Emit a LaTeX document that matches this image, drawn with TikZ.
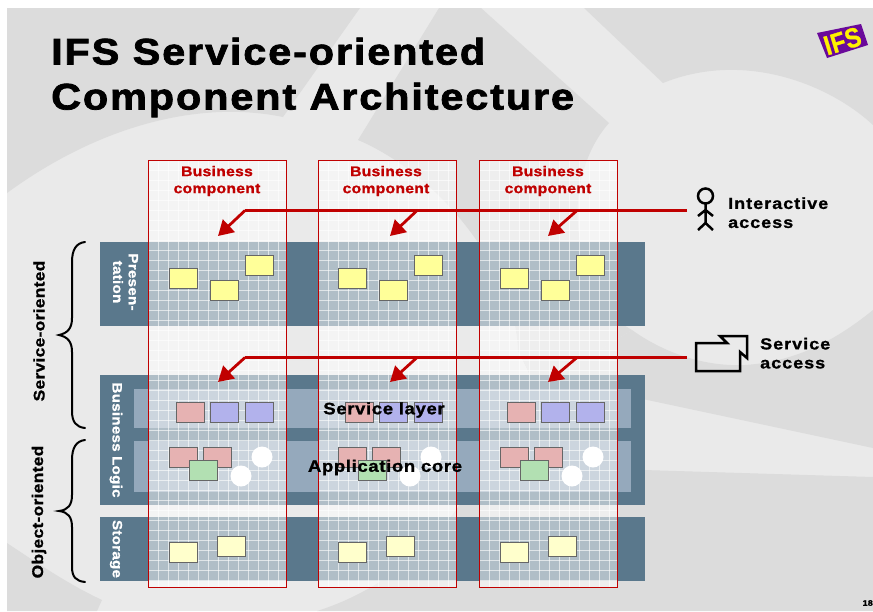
\documentclass[tikz,border=0pt]{standalone}
\usepackage{fontspec}
\setmainfont{Liberation Sans}[BoldFont={Liberation Sans Bold}]
\usetikzlibrary{arrows.meta,calc}
\definecolor{bgd}{HTML}{DCDCDC}
\definecolor{bgl}{HTML}{EAEAEA}
\definecolor{rowc}{HTML}{5A788C}
\definecolor{bandc}{HTML}{95A9BC}
\definecolor{redc}{HTML}{C00000}
\definecolor{yel}{HTML}{FFFF99}
\definecolor{lyel}{HTML}{FFFFCC}
\definecolor{pinkc}{HTML}{E6B2B2}
\definecolor{bluec}{HTML}{B2B2EC}
\definecolor{greenc}{HTML}{B2E0B2}
\definecolor{edgec}{HTML}{666666}
\definecolor{logoc}{HTML}{6A0A9A}
\newfontface\hvy{Liberation Sans Bold}[FakeStretch=1.12,FakeBold=2,LetterSpace=5]
\newfontface\hvysm{Liberation Sans Bold}[FakeStretch=1.12,FakeBold=1.1,LetterSpace=2]
\newfontface\hvymd{Liberation Sans Bold}[FakeStretch=1.12,FakeBold=1.1,LetterSpace=6.5]
\newfontface\hvylg{Liberation Sans Bold}[FakeStretch=1.12,FakeBold=1.3,LetterSpace=4]
\tikzset{
  x=1pt,y=-1pt,
  rowbox/.style={fill=rowc,draw=none},
  bandbox/.style={fill=bandc,draw=none},
  colbox/.style={draw=redc,line width=.9pt},
  item/.style={draw=edgec,line width=.9pt,minimum width=28pt,minimum height=20pt,inner sep=0pt},
  yitem/.style={item,fill=yel},
  litem/.style={item,fill=lyel},
  pitem/.style={item,fill=pinkc},
  bitem/.style={item,fill=bluec},
  gitem/.style={item,fill=greenc},
  citem/.style={circle,fill=white,draw=none,minimum size=21pt,inner sep=0pt},
  link/.style={draw=redc,line width=2.8pt},
  linkarrow/.style={link,-{Triangle[length=15pt,width=17pt]}},
  collabel/.style={text=redc,font=\hvysm\fontsize{14}{17}\selectfont,align=center},
  rowlabel/.style={text=white,font=\hvysm\fontsize{13.5}{15.5}\selectfont,align=center,rotate=-90},
  sidelabel/.style={text=black,font=\hvysm\fontsize{15.5}{18}\selectfont,rotate=90},
  acclabel/.style={text=black,font=\hvymd\fontsize{16}{19.5}\selectfont,align=left,anchor=west,inner sep=0pt},
  bandlabel/.style={text=black,font=\hvylg\fontsize{16.5}{18}\selectfont,inner sep=0pt},
  brace/.style={draw=black,line width=2pt,line cap=round},
  icon/.style={draw=black,line width=2.5pt},
}
\newcommand{\compcol}[2]{%
  \fill[white,opacity=.52] (#1,160) rectangle ++(138,427);
  \begin{scope}
    \clip (#1,160) rectangle ++(138,427);
    \foreach \i in {0,...,13} {\draw[white,opacity=.6,line width=.9pt] ({#1+10*\i+.5},160) -- ++(0,427);}
    \foreach \j in {0,...,42} {\draw[white,opacity=.6,line width=.9pt] (#1,{160+10*\j+.5}) -- ++(138,0);}
  \end{scope}
  \draw[colbox] (#1,160) rectangle ++(138,427);
}
\newcommand{\compitems}[2]{%
  \node[yitem] (#2y1) at ({183+#1},278) {};
  \node[yitem] (#2y2) at ({224+#1},290.5) {};
  \node[yitem] (#2y3) at ({259+#1},265) {};
  \node[pitem] (#2s1) at ({190+#1},412) {};
  \node[bitem] (#2s2) at ({224+#1},412) {};
  \node[bitem] (#2s3) at ({259+#1},412) {};
  \node[pitem] (#2a1) at ({183+#1},457) {};
  \node[pitem] (#2a2) at ({217+#1},457) {};
  \node[gitem] (#2a3) at ({203+#1},470) {};
  \node[citem] (#2c1) at ({262+#1},457) {};
  \node[citem] (#2c2) at ({241+#1},476) {};
  \node[litem] (#2d1) at ({183+#1},552.5) {};
  \node[litem] (#2d2) at ({231+#1},546) {};
}
\begin{document}
\begin{tikzpicture}
\useasboundingbox (0,0) rectangle (873,611);
% page and background artwork
\fill[white] (0,0) rectangle (873,611);
\fill[bgl] (7,8) rectangle (873,611);
\begin{scope}
  \clip (7,8) rectangle (873,611);
  % top-left dark area
  \fill[bgd] (7,8) -- (360,8) -- (283,117) .. controls (200,100) and (100,125) .. (7,193) -- cycle;
  % central dark area
  \fill[bgd] (439,8) -- (481,8) -- (609,123) .. controls (585,150) and (575,190) .. (578,225)
     .. controls (582,280) and (605,315) .. (632,330) -- (600,350) -- (530,375) -- (518,350) .. controls (515,270) and (440,175) .. (358,140) -- cycle;
  % top-right dark area
  \fill[bgd] (584,8) -- (873,8) -- (873,125) .. controls (830,85) and (745,50) .. (663,83) -- cycle;
  % right dark area, above the wedge
  \fill[bgd] (518,350) -- (530,375) -- (873,448) -- (873,310) .. controls (830,345) and (790,362) .. (745,365) .. controls (700,367) and (660,350) .. (632,330) -- (600,350) -- cycle;
  % bottom-right dark area
  \fill[bgd] (873,477) -- (480,465) .. controls (460,520) and (400,585) .. (317,611) -- (873,611) -- cycle;
  % bottom-left dark area
  \fill[bgd] (7,543) .. controls (40,565) and (70,585) .. (102,600) -- (97,611) -- (7,611) -- cycle;
\end{scope}
% layer rows
\fill[rowbox] (100,242) rectangle (645,326);
\fill[rowbox] (100,375) rectangle (645,505);
\fill[rowbox] (100,517) rectangle (645,581);
\fill[bandbox] (134,389) rectangle (631,428);
\fill[bandbox] (134,441) rectangle (631,492);
% component columns
\compcol{148}{A}
\compcol{318}{B}
\compcol{479}{C}
\compitems{0}{a}
\compitems{169}{b}
\compitems{331}{c}
% labels
\node[anchor=north west,inner sep=0pt,align=left,font=\hvy\fontsize{37}{45}\selectfont] (title) at (51,37.5) {IFS Service-oriented\\Component Architecture};
\node[collabel] (l1) at (217,181) {Business\\component};
\node[collabel] (l2) at (386,181) {Business\\component};
\node[collabel] (l3) at (548,181) {Business\\component};
\node[rowlabel] (rp) at (125.5,282) {Presen-\\tation};
\node[rowlabel] (rb) at (116,440) {Business Logic};
\node[rowlabel] (rs) at (116,549) {Storage};
\node[sidelabel] (so) at (39,331) {Service-oriented};
\node[sidelabel] (oo) at (39,512) {Object-oriented};
\node[bandlabel] (sl) at (384,410) {Service layer};
\node[bandlabel] (ac) at (385,467.5) {Application core};
\node[acclabel] (ia) at (728,214.5) {\begin{tabular}{@{}l@{}}Interactive\\[-.5pt]access\end{tabular}};
\node[acclabel] (sa) at (760,355) {\begin{tabular}{@{}l@{}}Service\\[-.5pt]access\end{tabular}};
% braces
\draw[brace] (85,242) .. controls (76,243) and (72,250) .. (72,262) -- (72,318) .. controls (72,328) and (68,333) .. (59,335) .. controls (68,337) and (72,342) .. (72,352) -- (72,411) .. controls (72,422) and (76,427) .. (85,428);
\draw[brace] (85,440) .. controls (76,441) and (72,448) .. (72,460) -- (72,495) .. controls (72,505) and (68,510) .. (59,511) .. controls (68,512) and (72,517) .. (72,527) -- (72,567) .. controls (72,577) and (76,581) .. (85,582);
% connector points
\coordinate (i0) at (687,210.5);
\coordinate (s0) at (687,357.5);
\coordinate (i1) at (245,210.5);
\coordinate (i2) at (417,210.5);
\coordinate (i3) at (577,210.5);
\coordinate (s1) at (245,357.5);
\coordinate (s2) at (417,357.5);
\coordinate (s3) at (577,357.5);
\coordinate (ti1) at (218,236);
\coordinate (ti2) at (390,236);
\coordinate (ti3) at (548,236);
\coordinate (ts1) at (218,382);
\coordinate (ts2) at (390,382);
\coordinate (ts3) at (548,382);
\draw[link] (i0) -- (i1);
\draw[link] (s0) -- (s1);
\draw[linkarrow] (i1) -- (ti1);
\draw[linkarrow] (i2) -- (ti2);
\draw[linkarrow] (i3) -- (ti3);
\draw[linkarrow] (s1) -- (ts1);
\draw[linkarrow] (s2) -- (ts2);
\draw[linkarrow] (s3) -- (ts3);
% actor
\draw[icon] (705.5,196) circle[radius=7.5];
\draw[icon] (705.5,203) -- (705.5,223) (698,216) -- (705.5,210) -- (713,216) (698,230) -- (705.5,223) -- (713,230);
% service icon
\draw[icon,line join=miter] (696,343) -- (727,343) -- (720,336) -- (747,336) -- (747,358) -- (740,352) -- (740,371) -- (696,371) -- cycle;
% logo
\fill[logoc] (817,33) -- (861,24) -- (868,45) -- (827,58) -- cycle;
\node[text=yellow,rotate=17,font=\hvysm\fontsize{21}{21}\selectfont,inner sep=0pt,yscale=1.3] (logo) at (842.5,41) {IFS};
\node[font=\hvysm\fontsize{8}{8}\selectfont,anchor=east,inner sep=0pt] (pg) at (873,603) {18};
\end{tikzpicture}
\end{document}
